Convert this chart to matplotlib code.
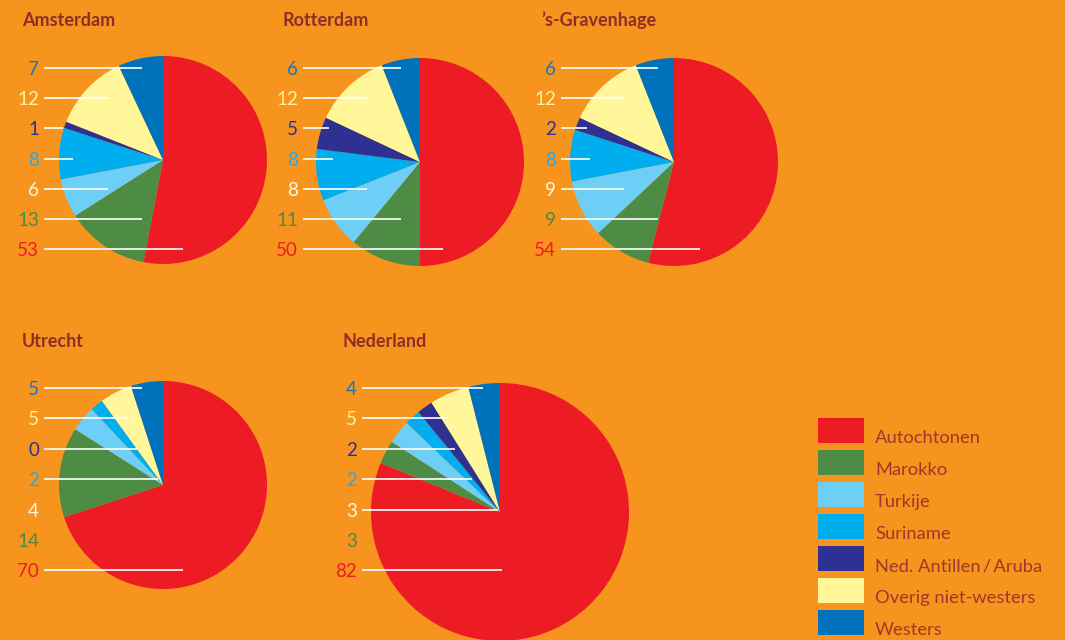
import matplotlib
matplotlib.use("Agg")
import matplotlib.pyplot as plt
from matplotlib.patches import Rectangle

plt.rcParams['font.family'] = ['Lato', 'DejaVu Sans']

W, H = 1065, 640

categories = ['Autochtonen', 'Marokko', 'Turkije', 'Suriname',
              'Ned. Antillen\u2009/\u2009Aruba', 'Overig niet-westers', 'Westers']
colors = ['#ED1C24', '#4E8B45', '#6DCFF6', '#00AEEF',
          '#2E3192', '#FFF799', '#0072BC']
label_colors = ['#ED1C24', '#4E8B45', '#FFF6E0', '#27AAE1',
                '#2E3192', '#FFF3A0', '#1C75BC']

amsterdam = [53, 13, 6, 8, 1, 12, 7]
rotterdam = [50, 11, 8, 8, 5, 12, 6]
den_haag = [54, 9, 9, 8, 2, 12, 6]
utrecht = [70, 14, 4, 2, 0, 5, 5]
nederland = [82, 3, 3, 2, 2, 5, 4]

titles = ['Amsterdam', 'Rotterdam', '\u2019s-Gravenhage', 'Utrecht', 'Nederland']

bg = '#F7941D'
title_color = '#8E2D2A'
legend_text_color = '#9A3A2A'


def Y(py):
    # pixel row (from the top) -> data y
    return H - py


# layout per panel: title pos, pie centre, radius, label right edge,
# first label row, row step, line end offsets (top label first, None = no line)
panels = [
    dict(values=amsterdam, title_xy=(22, 26), center=(163, 160), r=104,
         label_x=39, row0=68, step=30.2, ends=[-21, -55, -100, -90, -55, -21, 20]),
    dict(values=rotterdam, title_xy=(283, 26), center=(420, 162), r=104,
         label_x=298, row0=68, step=30.2, ends=[-19, -53, -91, -87, -53, -19, 23]),
    dict(values=den_haag, title_xy=(541, 26), center=(674, 162), r=104,
         label_x=556, row0=68, step=30.2, ends=[-16, -50, -87, -84, -50, -16, 26]),
    dict(values=utrecht, title_xy=(22, 347), center=(163, 485), r=104,
         label_x=39, row0=388, step=30.4, ends=[-21, -34, -26, -5, None, None, 20]),
    dict(values=nederland, title_xy=(343, 347), center=(500, 512), r=129,
         label_x=357, row0=388, step=30.4, ends=[-17, -52, -45, -28, -2, None, 2]),
]

fig = plt.figure(figsize=(W / 100, H / 100), dpi=100, facecolor=bg)
ax = fig.add_axes([0, 0, 1, 1])
ax.set_facecolor(bg)

for title, p in zip(titles, panels):
    cx, cy = p['center']
    ax.pie(p['values'], colors=colors, startangle=90, counterclock=False,
           radius=p['r'], center=(cx, Y(cy)),
           wedgeprops=dict(linewidth=0))
    tx, ty = p['title_xy']
    ax.text(tx, Y(ty), title, fontsize=13, fontweight='bold',
            color=title_color, ha='left', va='baseline')

    # value labels, from Westers at the top down to Autochtonen
    order = list(range(len(categories)))[::-1]
    for row, i in enumerate(order):
        ly = p['row0'] + p['step'] * row
        ax.text(p['label_x'], Y(ly + 1.5), str(p['values'][i]), fontsize=13.5,
                color=label_colors[i], ha='right', va='center')
        end = p['ends'][row]
        if end is not None:
            ax.plot([p['label_x'] + 5, cx + end], [Y(ly), Y(ly)],
                    color='white', lw=1.2, solid_capstyle='butt')

# legend
for i, (name, c) in enumerate(zip(categories, colors)):
    top = 418 + 32 * i
    ax.add_patch(Rectangle((818, Y(top + 25)), 46, 25, facecolor=c,
                           edgecolor='none'))
    ax.text(875, Y(top + 25), name, fontsize=13.2,
            color=legend_text_color, ha='left', va='baseline')

ax.set_xlim(0, W)
ax.set_ylim(0, H)
ax.set_aspect('equal')
ax.axis('off')

fig.savefig('out.png', dpi=100, facecolor=bg)
